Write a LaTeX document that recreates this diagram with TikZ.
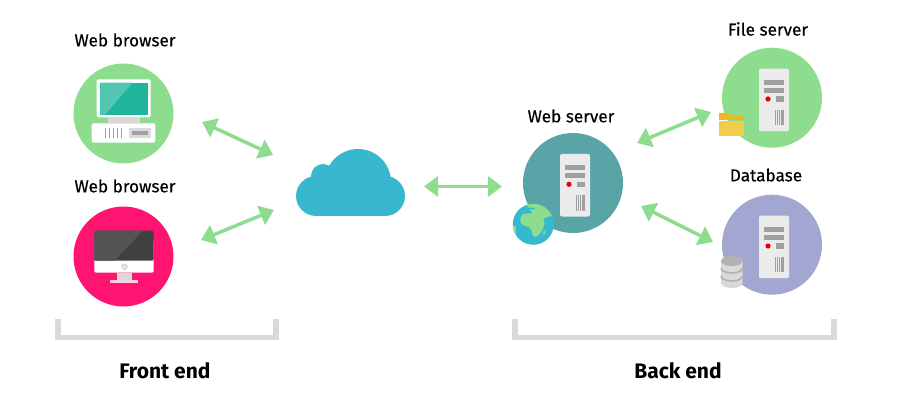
\documentclass[tikz,border=0pt]{standalone}
\usepackage{fontspec}
\setmainfont{Fira Sans}
\newfontfamily\mediumface{Fira Sans}[FakeBold=0.35]
\usetikzlibrary{arrows.meta}
\definecolor{leaf}{RGB}{142, 220, 142}
\definecolor{rose}{RGB}{255, 20, 114}
\definecolor{sea}{RGB}{89, 164, 166}
\definecolor{lilac}{RGB}{164, 166, 210}
\definecolor{sky}{RGB}{56, 184, 206}
\definecolor{rim}{RGB}{217, 217, 217}
\definecolor{slab}{RGB}{235, 235, 235}
\definecolor{steel}{RGB}{160, 160, 160}
\definecolor{screen}{RGB}{31, 181, 155}
\definecolor{glare}{RGB}{82, 198, 178}
\definecolor{folderback}{RGB}{235, 184, 31}
\definecolor{folderfront}{RGB}{240, 206, 74}
\tikzset{
	disc/.style={circle, draw=none, minimum size=100pt, inner sep=0pt},
	caption/.style={font=\mediumface\fontsize{17.2}{19}\selectfont, text=black},
	endcaption/.style={font=\fontsize{21}{24}\selectfont\bfseries, text=black},
	link/.style={draw=leaf, line width=3.5pt, {Triangle[length=14pt,width=20pt]}-{Triangle[length=14pt,width=20pt]}},
	bracket/.style={draw=rim, line width=5.5pt},
	serverbox/.pic={
		\fill[slab, rounded corners=2pt] (-13,-29) rectangle (17,33.5);
		\fill[steel] (-8,-18) rectangle (12,-13);
		\fill[steel] (-8,-9.5) rectangle (12,-4.5);
		\fill[red!90!black] (-4,1.3) circle (2.6);
		\fill[steel] (3.7,-1.3) rectangle (12,4);
		\foreach \x in {3.2,5,...,11.2}
			\fill[steel] (\x,12) rectangle ++(1.2,15.7);
	}
}

\begin{document}
\begin{tikzpicture}[x=1pt, y=-1pt]
	\useasboundingbox (0,0) rectangle (900,409);

	% discs
	\node[disc, fill=leaf] (browsera) at (123.5,113.5) {};
	\node[disc, fill=rose] (browserb) at (123.5,256.5) {};
	\node[disc, fill=sea] (webserver) at (573,183) {};
	\node[disc, fill=leaf] (fileserver) at (772,97.7) {};
	\node[disc, fill=lilac] (database) at (772,244.7) {};

	% captions
	\node[caption] (browseratext) at (125,40) {Web browser};
	\node[caption] (browserbtext) at (125,186) {Web browser};
	\node[caption] (webservertext) at (571,116) {Web server};
	\node[caption] (fileservertext) at (768,29) {File server};
	\node[caption] (databasetext) at (766,175) {Database};
	\node[endcaption] (frontend) at (165,371) {Front end};
	\node[endcaption] (backend) at (678,371) {Back end};

	% old computer
	\fill[white, rounded corners=1.5pt] (96.7,79.3) rectangle (150.7,117.3);
	\fill[screen] (100.3,82.7) rectangle (148,114.7);
	\fill[glare] (100.3,82.7) -- (132.7,82.7) -- (105,114.7) -- (100.3,114.7) -- cycle;
	\fill[rim] (107.7,117.3) rectangle (140,123.3);
	\fill[white, rounded corners=2pt] (91.7,123.3) rectangle (155.3,142.7);
	\foreach \x in {104.5,108.5,...,120.5}
		\fill[steel] (\x,128.3) rectangle ++(1.8,10);
	\fill[rim] (129.3,128.3) rectangle (150.7,138.3);
	\fill[steel] (132,131.5) rectangle (148,135);

	% new computer
	\fill[white, rounded corners=2pt] (94.3,240) rectangle (153.7,272.7);
	\fill[black!75, rounded corners=2pt] (94.3,230.7) rectangle (153.7,260.7);
	\fill[black!67] (96,230.7) -- (143,230.7) -- (114.3,260.7) -- (94.3,260.7) -- (94.3,232) -- cycle;
	\filldraw[draw=rim, fill=white, line width=2pt] (124.5,266.7) circle (2.2);
	\fill[rim] (116.7,272.7) rectangle (131.7,280);
	\fill[white!80!rose] (110,280) rectangle (138,282.5);

	% servers
	\pic at (webserver) {serverbox};
	\pic at (fileserver) {serverbox};
	\pic at (database) {serverbox};

	% globe
	\fill[sky] (533.3,224.3) circle (20.5);
	\begin{scope}
		\clip (533.3,224.3) circle (20.5);
		\fill[leaf] (527,204) -- (545,204) .. controls (550,208) and (553,212) .. (554,216) .. controls (549,216) and (546,217) .. (543,219) .. controls (546,222) and (544,228) .. (541,232) .. controls (539,236) and (535,238) .. (533,236) .. controls (532,230) and (530,226) .. (525,226) .. controls (519,224) and (519,218) .. (523,214) .. controls (526,213) and (530,214) .. (533,213) .. controls (530,211) and (527,208) .. cycle;
		\fill[sky] (530,208.5) ellipse[x radius=5, y radius=1];
		\fill[leaf] (512,226) rectangle (516,236);
		\fill[leaf] (543,232) -- (546,230) -- (544,236) -- cycle;
	\end{scope}

	% folder
	\fill[folderback] (719,113) rectangle (730,117) (719,116) rectangle (744,120);
	\fill[folderfront] (719,121) rectangle (744,136);

	% stack of disks
	\fill[rim] (721,261) -- (742.5,261) -- (742.5,283) arc[start angle=0, end angle=180, x radius=10.75, y radius=5] -- cycle;
	\draw[black!30, line width=1.6pt] (721,268) arc[start angle=180, end angle=0, x radius=10.75, y radius=5];
	\draw[black!30, line width=1.6pt] (721,276) arc[start angle=180, end angle=0, x radius=10.75, y radius=5];
	\fill[black!30] (731.7,261) ellipse[x radius=10.75, y radius=5];

	% cloud
	\fill[sky] (316,196) circle (20);
	\fill[sky] (385,196) circle (20);
	\fill[sky] (358,182) circle (33);
	\fill[sky] (323,176) circle (12);
	\fill[sky] (316,190) rectangle (385,216);

	% links
	\coordinate (linkaa) at (202,122);
	\coordinate (linkab) at (273,155);
	\coordinate (linkba) at (201,240);
	\coordinate (linkbb) at (274,210);
	\coordinate (linkca) at (424,186.5);
	\coordinate (linkcb) at (502,186.5);
	\coordinate (linkda) at (637,143);
	\coordinate (linkdb) at (711,112);
	\coordinate (linkea) at (641,206);
	\coordinate (linkeb) at (713,242);
	\draw[link] (linkaa) -- (linkab);
	\draw[link] (linkba) -- (linkbb);
	\draw[link] (linkca) -- (linkcb);
	\draw[link] (linkda) -- (linkdb);
	\draw[link] (linkea) -- (linkeb);

	% brackets
	\draw[bracket] (58,319) -- (58,337.5) -- (276,337.5) -- (276,319);
	\draw[bracket] (515,319) -- (515,337.5) -- (834,337.5) -- (834,319);
\end{tikzpicture}
\end{document}
